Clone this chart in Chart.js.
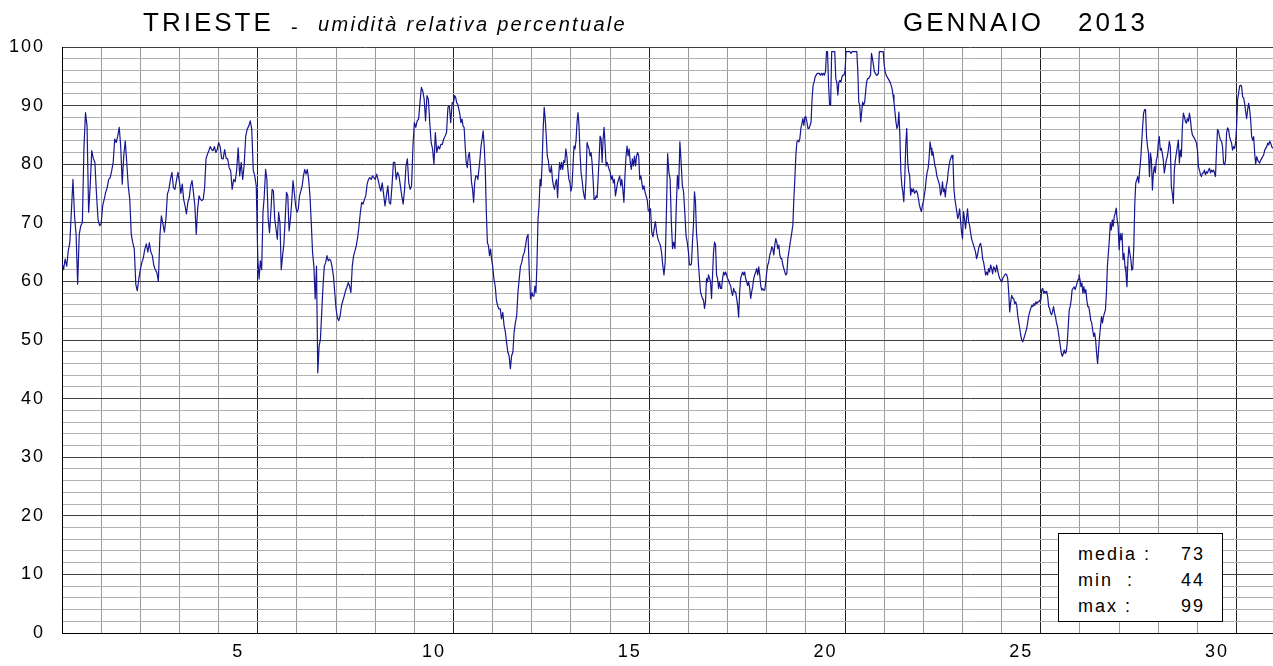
<!DOCTYPE html>
<html>
<head>
<meta charset="utf-8">
<script src="https://cdn.jsdelivr.net/npm/chart.js@4.4.1/dist/chart.umd.min.js"></script>
<style>
  html, body { margin: 0; padding: 0; background: #fff; }
  #wrap { position: relative; width: 1273px; height: 666px; overflow: hidden;
          font-family: 'Liberation Sans', Arial, sans-serif; color: #000; }
  #chart { position: absolute; left: 0; top: 0; }
  .t { position: absolute; white-space: pre; line-height: 1; }
  .big { font-size: 26px; letter-spacing: 3px; top: 9px; }
  .sub { font-size: 20px; font-style: italic; letter-spacing: 2.3px; top: 14px; left: 318px; }
  .dash { font-size: 20px; top: 17px; left: 291px; }
  #stats { position: absolute; left: 1058px; top: 533px; width: 165px; height: 89px;
           box-sizing: border-box; border: 1px solid #000; background: #fff; }
  .s { position: absolute; font-size: 18px; line-height: 18px; letter-spacing: 2px; white-space: pre; }
</style>
</head>
<body>
<div id="wrap">
  <canvas id="chart" width="1273" height="666"></canvas>
  <div class="t big" style="left:143px">TRIESTE</div>
  <div class="t dash">-</div>
  <div class="t sub">umidità relativa percentuale</div>
  <div class="t big" style="left:903px">GENNAIO</div>
  <div class="t big" style="left:1078px">2013</div>
  <div id="stats"></div>
</div>
<script>
// umidità relativa (%) - un array per giorno, campioni equidistanti nel giorno
const day01 = [63.2, 62, 63.8, 62.6, 65.2, 66.6, 72, 77.4, 71.2, 68, 59.5, 68, 69.5, 70, 82.6, 88.8, 86.5, 71.8, 76.3, 82.3, 81, 80.3, 75, 70.6, 69.5];
const day02 = [69.8, 72.9, 74, 75.2, 76, 77.4, 77.7, 78.9, 80.3, 84.3, 83.7, 84.8, 86.3, 83, 76.6, 81.4, 84, 80.3, 76.3, 74, 68, 66.6, 65.5, 59.5, 58.4, 60.4];
const day03 = [62, 63.2, 64, 65.5, 66.4, 65, 66.6, 65, 64.4, 62.7, 62, 61.5, 60, 67.8, 71.2, 69.8, 68.4, 70.6, 74.9, 75.7, 77.4, 78.6, 76, 75.7, 77.2, 78.6];
const day04 = [77, 75, 76.6, 74, 72.9, 71.5, 73.5, 74.3, 76.3, 77.2, 75.2, 72.9, 68, 72.3, 74.6, 74, 73.8, 74, 76, 80.9, 81.7, 82.3, 83, 82.5, 82.3, 83, 82, 82.5];
const day05 = [83.7, 83, 81, 80.9, 82.5, 81, 80.9, 79.4, 78.9, 75.7, 77.4, 77, 79, 82.8, 78, 80.3, 77.4, 80, 84.8, 86, 86.5, 87.4, 86, 79, 78, 76.3];
const day06 = [64, 60.4, 63.5, 62, 71.8, 74.6, 79.1, 77.4, 70.6, 68.3, 71.8, 75.7, 75.4, 70.6, 68.9, 67.2, 71.8, 70, 62, 64.4, 66.3, 70.6, 75.2, 74.6, 68.6, 70.6, 73.5, 77.2, 75.2, 72.9];
const day07 = [71.8, 72.3, 74.6, 75.4, 76.3, 78, 79.1, 78.3, 79.1, 77.4, 74.6, 70, 64.9, 62.6, 57, 62.6, 44.4, 49, 50.1, 54.7, 59.2, 62.6, 63.2, 64.4, 63.5, 63.8, 63.5, 62.4, 60.9, 58.1];
const day08 = [55.3, 53.8, 53.3, 54.1, 55.8, 56.7, 57.5, 58.4, 59, 59.8, 59.2, 58.1, 62.6, 64.4, 65.2, 66.1, 67.5, 69.5, 71.8, 73.5, 73.2, 74, 74.6, 76.6, 77.4, 77.7, 77.4, 78, 77.7];
const day09 = [77.4, 78.3, 77.4, 76.3, 75.4, 76.8, 74.9, 72.9, 74.6, 76.3, 73.5, 73.2, 76.3, 80.3, 80.3, 77.4, 78.6, 78, 76.3, 74.6, 73.2, 75.7, 79.7, 80.9, 76.8, 75.7, 76.3, 83.1];
const day10 = [87.1, 86.3, 87.4, 87.7, 90.5, 93.1, 92.5, 91.1, 87.4, 91.7, 91.1, 87.1, 83.7, 82.6, 80, 85.4, 82, 83.1, 82.6, 83.4, 83.4, 84.3, 84.8, 85.4, 89.7, 90, 87.1, 90.5];
const day11 = [90.5, 91.7, 91.4, 90.5, 90.2, 89.4, 88.5, 87.1, 87.7, 86.5, 86.3, 83.1, 80.3, 79.4, 81.4, 82, 79.7, 76.9, 75.7, 73.5, 76.9, 78, 78, 77.4, 79.1, 80.9, 83.1, 84.3, 85.7, 83.1, 79.1, 71.8, 66.6, 66.1, 64.4, 65.5, 63.8];
const day12 = [62.6, 60.4, 59.2, 56.7, 55.8, 55.3, 55.3, 53.6, 54.7, 52.5, 51.4, 49.6, 47.9, 47.3, 45.1, 47.3, 47.9, 51.4, 53, 54.1, 58.1, 60.4, 62.6, 63.2, 64.4, 64.9, 66.1, 67.5, 68, 61.5, 57];
const day13 = [58.1, 57.5, 57.5, 59.2, 58.1, 63.2, 70.6, 72.9, 77.4, 76.3, 80.3, 86, 89.7, 87.7, 84.8, 81.4, 80.6, 78.9, 78.6, 79.7, 77.4, 76.3, 75.7, 76.8, 77.4, 74.3, 78, 80.3, 79.1, 80.3, 79.1, 80.6, 80.3, 82.6, 81.4, 79.1, 77.4, 76.8];
const day14 = [75.4, 76.3, 79.7, 83.1, 82.6, 84, 87.1, 88.8, 86.5, 82, 78.6, 77.4, 75.7, 74.6, 74, 77.4, 83.7, 83.1, 82.6, 81.4, 82, 80.3, 77.4, 74, 74, 74.6, 74.3, 77.4, 80.9, 84.8, 84.3, 80.3, 84.3, 86.3, 83.1, 79.7, 80.3, 79.7, 79.1];
const day15 = [78.6, 77.4, 78, 76.8, 77.4, 74.6, 75.7, 76.8, 77.4, 78, 76.3, 77.4, 75.7, 73.5, 78, 81.4, 83.1, 81.4, 82.6, 80.3, 79.1, 80.9, 79.7, 81.4, 79.7, 81.4, 82, 81.4, 77.4, 78, 76.8, 75.7, 76.3, 75.2, 74.6, 74, 72.1];
const day16 = [71.9, 72.4, 68.4, 67.6, 69, 70.2, 68.4, 67.3, 66.7, 66.2, 65, 62.8, 61.1, 63.3, 71.9, 81.8, 78.7, 77.5, 70.2, 65.6, 66.7, 65.6, 72.4, 78.1, 75.8, 83.8, 80.4, 76.4, 75.3, 71.9, 67.9, 66.7];
const day17 = [65, 62.8, 62.8, 63, 66.7, 69.6, 75.3, 73.6, 68.4, 66.2, 62.8, 60.5, 58.2, 57.6, 57.1, 56.8, 55.4, 56.5, 60.5, 59.9, 61.1, 60.5, 59.9, 57.1, 61.1, 65, 66.7, 66.2, 61.1, 60.5, 58.8, 59.9, 58.8, 58.8, 60.5, 61.6, 61.1, 61.6, 61.1];
const day18 = [60.5, 60.2, 59.6, 59.3, 58.2, 57.6, 58.8, 58.2, 58.2, 57.1, 55.9, 53.9, 58.2, 60.5, 61.1, 61.6, 61.1, 61.6, 60.5, 59.9, 59.3, 59.9, 58.8, 57.1, 58.2, 59.1, 60.5, 61.1, 61.6, 62.2, 61.1, 62.5, 61.1, 59.3, 58.5, 58.8, 58.5, 58.5, 59.9];
const day19 = [61.6, 62.8, 63.3, 64.5, 65, 65.9, 65.6, 64.5, 66.2, 67.3, 66.7, 65.6, 66.2, 64.5, 63.9, 63.9, 62.8, 62.2, 61.6, 61.1, 61.3, 63.9, 65, 66.2, 67.3, 68.4, 69.6, 74.1, 77.5, 81.5, 83.8, 84.1, 83.8, 84.4, 86.1, 86.9, 87.8, 86.6, 88.1];
const day20 = [88.1, 87.2, 86.1, 86.1, 86.6, 87.2, 91.2, 93.5, 94, 94.9, 95.2, 95.5, 95.5, 95.5, 95.2, 95.5, 95.2, 95.5, 95.2, 95.8, 99.2, 99.2, 93.5, 90.1, 90.1, 99.2, 99.2, 99.2, 99.2, 94.6, 94, 91.8, 94, 94.3, 94, 94.9, 95.2, 95.2];
const day21 = [96, 99.2, 99.2, 99.2, 99.2, 99.2, 98.9, 99.2, 99.2, 99.2, 99.2, 99.2, 99.2, 96, 90.6, 90.1, 87.2, 88.9, 90.6, 90.1, 90.6, 92.3, 94, 94.6, 94.6, 94.9, 95.2, 98.9, 98, 96.9, 95.8, 95.5, 95.2, 95.2, 95.5, 99.2, 99.2, 99.2, 99.2, 99.2];
const day22 = [96.9, 95.8, 95.2, 94.9, 94.6, 94.3, 94, 93.5, 92.9, 91.8, 90.6, 88.9, 87.2, 86.1, 86.6, 88.9, 84.9, 78.7, 76.4, 75.3, 73.6, 77.5, 83.2, 86.1, 80.4, 78.7, 78.1, 74.7, 75.8, 75.3, 75.8, 75, 75.3, 75.5, 75, 74.1, 73, 72.4, 71.9, 73];
const day23 = [73.6, 74.7, 75.8, 77.5, 78.7, 79.3, 81, 83.8, 82.7, 81.5, 82.1, 81, 79.8, 79.3, 78.1, 77.5, 77, 76.4, 74.7, 75.3, 77, 75.3, 75.8, 74.4, 76.4, 77, 78.7, 79.8, 80.7, 81.2, 81.5, 80.7, 75.8, 74.1, 73, 71.9, 70.7, 71.3, 72.4, 70.2, 68.4];
const day24 = [67.3, 71.9, 70.7, 69, 70.7, 72.4, 70.2, 69.6, 68.4, 67.3, 66.7, 66.2, 65.6, 65, 63.9, 64.5, 65.6, 66.2, 66.5, 65.6, 63.9, 63.3, 62.2, 61.1, 61.6, 61.1, 62.2, 61.6, 62.8, 62.2, 61.3, 62.5, 62.2, 61.6, 62.8, 61.9, 61.1, 60.5, 60.2];
const day25 = [59.9, 60.5, 60.8, 61.1, 61.3, 61.1, 60.5, 58.2, 54.8, 56.5, 57.6, 57.1, 57.1, 56.2, 56.5, 55.9, 54.2, 53.1, 52, 50.8, 50, 49.7, 50.2, 50.8, 51.4, 52, 53.1, 54.2, 54.8, 55.4, 55.9, 55.7, 56.2, 55.9, 56.5, 56.2, 56.5, 56.5, 56.8];
const day26 = [56.8, 58.6, 58.8, 58, 58.3, 58, 58.3, 57.4, 55.7, 55.4, 54.6, 54.3, 54.9, 55.7, 54.6, 54, 52.9, 52.3, 51.2, 50, 48.9, 47.7, 47.2, 47.7, 48.3, 47.7, 48, 49.5, 52.3, 55.1, 55.7, 56.8, 58.6, 58.8, 59.1, 58.6, 59.1, 59.7, 60.3, 61.1];
const day27 = [60.3, 59.1, 59.7, 58, 59.1, 58, 58.6, 56.8, 55.7, 55.7, 54.6, 53.4, 52.9, 51.7, 50.6, 51.2, 50, 47.7, 46, 48.3, 50.6, 52.3, 54, 52.9, 54, 54.6, 55.1, 58, 62.5, 64.8, 67.1, 69.9, 68.8, 70.5, 69.4, 71.1, 71.6, 72.5, 70.5, 69.4];
const day28 = [65.4, 68.2, 67.1, 68.2, 63.7, 64.8, 62.5, 61.4, 59.1, 63.7, 66, 64.8, 63.7, 61.9, 62.2, 66, 73.3, 76.8, 77.3, 77.9, 76.8, 79, 80.7, 83.6, 86.4, 88.7, 89.3, 89.3, 84.7, 83, 81.9, 77.9, 81.9, 80.7, 75.6, 78.5, 79.6, 78.5, 80.7, 81.3];
const day29 = [83.6, 84.7, 82.4, 82.7, 81.9, 80.7, 78.5, 79.6, 80.7, 81.3, 82.4, 83.9, 83, 76.2, 75, 73.3, 79, 80.7, 81.9, 83, 84.1, 80.2, 82.4, 81.3, 86.4, 88.7, 88.1, 87.3, 87, 87.8, 87.3, 88.7, 87.6, 85.9, 85, 84.7, 84.4, 84.1, 83.6];
const day30 = [82.4, 79.6, 79, 78.2, 77.9, 78.5, 78.5, 79, 78.2, 78.7, 78.5, 79, 79.3, 78.5, 79, 78.7, 79, 78.5, 77.9, 82.4, 85.9, 85.6, 84.7, 84.1, 83.9, 83, 80.2, 79.9, 80.7, 85.3, 86.2, 85.9, 84.7, 84.1, 83.6, 82.4, 83, 82.7, 83.6];
const day31 = [86.4, 91, 92.1, 93.3, 93.5, 93.3, 91.5, 91.3, 90.4, 89, 87.8, 89.3, 90.4, 89.3, 87.6, 84.7, 84.1, 84.7, 81.9, 80, 81.3, 80.7, 80.4, 80.2, 80.7, 81, 81.3, 81.6, 82.4, 82.7, 83, 83.6, 83.3, 83.9, 83.6, 83, 82.7];

const xTickLabels = ['5', '10', '15', '20', '25', '30'];
const yTickLabels = ['0', '10', '20', '30', '40', '50', '60', '70', '80', '90', '100'];
const statLabels = ['media :', 'min  :', 'max :'];
const statValues = ['73', '44', '99'];

const days = [day01, day02, day03, day04, day05, day06, day07, day08, day09, day10,
  day11, day12, day13, day14, day15, day16, day17, day18, day19, day20,
  day21, day22, day23, day24, day25, day26, day27, day28, day29, day30, day31];

// l'ultimo giorno è tagliato al bordo destro: stesso passo dei giorni precedenti
const points = [];
days.forEach((vals, k) => {
  const n = k === days.length - 1 ? day30.length : vals.length;
  vals.forEach((v, i) => points.push({ x: k + i / n, y: v }));
});

// riquadro statistiche
const box = document.getElementById('stats');
statLabels.forEach((lab, i) => {
  const l = document.createElement('div');
  l.className = 's';
  l.style.left = '19px';
  l.style.top = (11 + i * 26) + 'px';
  l.textContent = lab;
  box.appendChild(l);
  const v = document.createElement('div');
  v.className = 's';
  v.style.right = '17px';
  v.style.top = (11 + i * 26) + 'px';
  v.textContent = statValues[i];
  box.appendChild(v);
});

const spacing = {
  id: 'spacing',
  beforeDraw(chart) { chart.ctx.letterSpacing = '2px'; }
};

const font = { family: "'Liberation Sans', Arial, sans-serif", size: 18 };

new Chart(document.getElementById('chart'), {
  type: 'line',
  data: {
    datasets: [{
      data: points,
      borderColor: '#161690',
      borderWidth: 1.2,
      borderJoinStyle: 'round',
      pointRadius: 0,
      tension: 0
    }]
  },
  plugins: [spacing],
  options: {
    responsive: false,
    animation: false,
    devicePixelRatio: 1,
    layout: { padding: { top: 47, left: 0, right: 0, bottom: 0 } },
    plugins: { legend: { display: false }, tooltip: { enabled: false }, title: { display: false } },
    scales: {
      x: {
        type: 'linear',
        min: 0,
        max: 30.93,
        afterBuildTicks: axis => {
          axis.ticks = days.slice(0, 31).map((d, k) => ({ value: k }));
        },
        afterFit: axis => { axis.height = 33; },
        ticks: {
          font: font,
          color: '#000',
          padding: 8,
          maxRotation: 0,
          autoSkip: false,
          labelOffset: -19.6,
          callback: v => (v > 0 && v % 5 === 0) ? xTickLabels[v / 5 - 1] : ''
        },
        grid: {
          drawTicks: false,
          lineWidth: 1,
          color: ctx => (ctx.tick && ctx.tick.value % 5 === 0) ? '#202020' : '#9a9a9a'
        },
        border: { display: true, color: '#000', width: 1 }
      },
      y: {
        min: 0,
        max: 100,
        afterFit: axis => { axis.width = 62; },
        ticks: {
          stepSize: 2,
          font: font,
          color: '#000',
          padding: 17,
          autoSkip: false,
          callback: v => v % 10 === 0 ? yTickLabels[v / 10] : ''
        },
        grid: {
          drawTicks: false,
          lineWidth: 1,
          color: ctx => (ctx.tick && ctx.tick.value % 10 === 0) ? '#404040' : '#b0b0b0'
        },
        border: { display: true, color: '#000', width: 1 }
      }
    }
  }
});
</script>
</body>
</html>
